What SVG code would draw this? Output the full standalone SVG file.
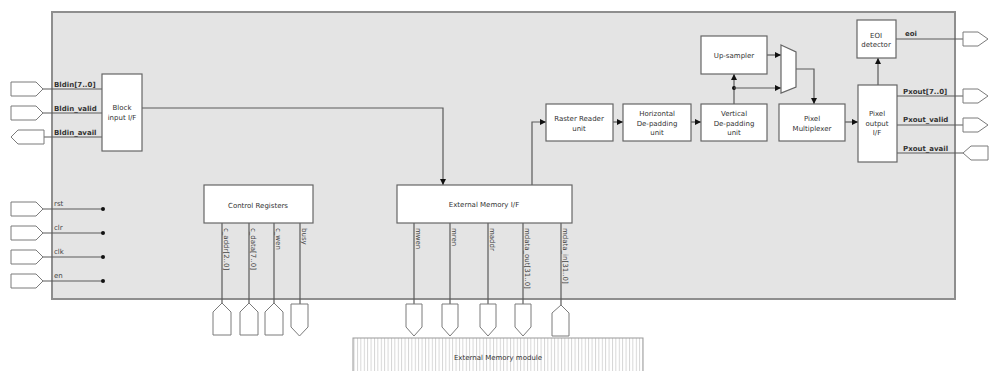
<svg xmlns="http://www.w3.org/2000/svg" width="989" height="371" viewBox="0 0 989 371">
<style>
.frame{fill:#e4e4e4;stroke:#8e8e8e;stroke-width:2}
.box{fill:#fff;stroke:#666;stroke-width:1.2}
.pin{fill:#fff;stroke:#7a7a7a;stroke-width:1}
.w{fill:none;stroke:#5a5a5a;stroke-width:1.2}
.wa{fill:none;stroke:#5a5a5a;stroke-width:1.2;marker-end:url(#ah)}
.t{font-family:"DejaVu Sans",Verdana,sans-serif;font-size:7px;fill:#333;text-anchor:middle}
.pl{font-family:"DejaVu Sans",Verdana,sans-serif;font-size:7px;font-weight:bold;fill:#333}
.pr{font-family:"DejaVu Sans",Verdana,sans-serif;font-size:7px;fill:#444}
.dot{fill:#111}
</style>
<defs>
<marker id="ah" viewBox="0 0 10 10" refX="10" refY="5" markerWidth="6" markerHeight="6" markerUnits="userSpaceOnUse" orient="auto">
<path d="M0,0 L10,5 L0,10 z" fill="#111"/>
</marker>
<pattern id="stripes" width="3.4" height="10" patternUnits="userSpaceOnUse">
<rect width="3.4" height="10" fill="#fff"/>
<line x1="0.5" y1="0" x2="0.5" y2="10" stroke="#c8c8c8" stroke-width="0.8"/>
</pattern>
</defs>

<rect id="frame" class="frame" x="52" y="12" width="903" height="287"/>

<g id="memory-module">
<rect x="353" y="338" width="290" height="40" fill="url(#stripes)" stroke="#999" stroke-width="1"/>
<text class="t" x="498" y="360">External Memory module</text>
</g>

<g id="connectors">
<!-- left pin wires -->
<line class="w" x1="43" y1="89" x2="102" y2="89"/>
<line class="w" x1="43" y1="113" x2="102" y2="113"/>
<line class="w" x1="44" y1="137" x2="102" y2="137"/>
<line class="w" x1="43" y1="209" x2="103" y2="209"/>
<line class="w" x1="43" y1="233" x2="103" y2="233"/>
<line class="w" x1="43" y1="257" x2="103" y2="257"/>
<line class="w" x1="43" y1="281" x2="103" y2="281"/>
<circle class="dot" cx="103" cy="209" r="2"/>
<circle class="dot" cx="103" cy="233" r="2"/>
<circle class="dot" cx="103" cy="257" r="2"/>
<circle class="dot" cx="103" cy="281" r="2"/>
<!-- block input to ext mem IF -->
<polyline class="wa" points="142,108 443,108 443,185"/>
<!-- ext mem IF to raster reader -->
<polyline class="wa" points="532,185 532,122 546,122"/>
<line class="wa" x1="613" y1="122" x2="623" y2="122"/>
<line class="wa" x1="691" y1="122" x2="701" y2="122"/>
<line class="wa" x1="734" y1="104" x2="734" y2="74"/>
<circle class="dot" cx="734" cy="88" r="2"/>
<line class="wa" x1="734" y1="88" x2="781" y2="88"/>
<line class="wa" x1="767" y1="55" x2="781" y2="55"/>
<polyline class="wa" points="796,69 814,69 814,104"/>
<line class="wa" x1="845" y1="122" x2="858" y2="122"/>
<line class="wa" x1="878" y1="85" x2="878" y2="58"/>
<!-- right pin wires -->
<line class="w" x1="896" y1="39" x2="963" y2="39"/>
<line class="w" x1="897" y1="96" x2="963" y2="96"/>
<line class="w" x1="897" y1="125" x2="963" y2="125"/>
<line class="w" x1="897" y1="153" x2="963" y2="153"/>
<!-- control register wires -->
<line class="w" x1="222" y1="223" x2="222" y2="303"/>
<line class="w" x1="249" y1="223" x2="249" y2="303"/>
<line class="w" x1="274" y1="223" x2="274" y2="303"/>
<line class="w" x1="300" y1="223" x2="300" y2="304"/>
<!-- memory wires -->
<line class="w" x1="414" y1="223" x2="414" y2="304"/>
<line class="w" x1="450" y1="223" x2="450" y2="304"/>
<line class="w" x1="488" y1="223" x2="488" y2="304"/>
<line class="w" x1="523" y1="223" x2="523" y2="304"/>
<line class="w" x1="561" y1="223" x2="561" y2="305"/>
</g>

<g id="pins-left">
<polygon class="pin" points="11,82 36,82 43,89 36,96 11,96"/>
<polygon class="pin" points="11,106 36,106 43,113 36,120 11,120"/>
<polygon class="pin" points="11,137 18,130 44,130 44,144 18,144"/>
<polygon class="pin" points="11,202 36,202 43,209 36,216 11,216"/>
<polygon class="pin" points="11,226 36,226 43,233 36,240 11,240"/>
<polygon class="pin" points="11,250 36,250 43,257 36,264 11,264"/>
<polygon class="pin" points="11,274 36,274 43,281 36,288 11,288"/>
<text class="pl" x="54" y="87">Bldin[7..0]</text>
<text class="pl" x="54" y="111">Bldin_valid</text>
<text class="pl" x="54" y="135">Bldin_avail</text>
<text class="pr" x="54" y="206">rst</text>
<text class="pr" x="54" y="230">clr</text>
<text class="pr" x="54" y="254">clk</text>
<text class="pr" x="54" y="278">en</text>
</g>

<g id="pins-right">
<polygon class="pin" points="963,32 978,32 988,39 978,46 963,46"/>
<polygon class="pin" points="963,89 978,89 988,96 978,103 963,103"/>
<polygon class="pin" points="963,118 978,118 988,125 978,132 963,132"/>
<polygon class="pin" points="963,153 971,146 988,146 988,160 971,160"/>
<text class="pl" x="905" y="36">eoi</text>
<text class="pl" x="903" y="94">Pxout[7..0]</text>
<text class="pl" x="903" y="122">Pxout_valid</text>
<text class="pl" x="903" y="151">Pxout_avail</text>
</g>

<g id="pins-bottom">
<polygon class="pin" points="222,303 231,312 231,335 213,335 213,312"/>
<polygon class="pin" points="249,303 258,312 258,335 240,335 240,312"/>
<polygon class="pin" points="274,303 283,312 283,335 265,335 265,312"/>
<polygon class="pin" points="291,304 308,304 308,327 299.5,336 291,327"/>
<polygon class="pin" points="406,304 422,304 422,327 414,336 406,327"/>
<polygon class="pin" points="442,304 458,304 458,327 450,336 442,327"/>
<polygon class="pin" points="480,304 496,304 496,327 488,336 480,327"/>
<polygon class="pin" points="515,304 531,304 531,327 523,336 515,327"/>
<polygon class="pin" points="561,305 569,313 569,336 552,336 552,313"/>
</g>

<g id="block-input-if">
<rect class="box" x="102" y="74" width="40" height="77"/>
<text class="t" x="122" y="110">Block</text>
<text class="t" x="122" y="120">input I/F</text>
</g>

<g id="control-registers">
<rect class="box" x="204" y="185" width="109" height="38"/>
<text class="t" x="258" y="208">Control Registers</text>
<g class="pr">
<text transform="translate(224,228) rotate(90)">c_addr[2..0]</text>
<text transform="translate(251,228) rotate(90)">c_data[7..0]</text>
<text transform="translate(276,228) rotate(90)">c_wen</text>
<text transform="translate(302,228) rotate(90)">busy</text>
</g>
</g>

<g id="external-memory-if">
<rect class="box" x="397" y="185" width="175" height="38"/>
<text class="t" x="484" y="207">External Memory I/F</text>
<g class="pr">
<text transform="translate(416,228) rotate(90)">mwen</text>
<text transform="translate(452,228) rotate(90)">mren</text>
<text transform="translate(490,228) rotate(90)">maddr</text>
<text transform="translate(525,228) rotate(90)">mdata_out[31..0]</text>
<text transform="translate(563,228) rotate(90)">mdata_in[31..0]</text>
</g>
</g>

<g id="raster-reader">
<rect class="box" x="546" y="104" width="67" height="37"/>
<text class="t" x="579" y="121">Raster Reader</text>
<text class="t" x="579" y="131">unit</text>
</g>

<g id="horizontal-depadding">
<rect class="box" x="623" y="104" width="68" height="37"/>
<text class="t" x="657" y="116">Horizontal</text>
<text class="t" x="657" y="126">De-padding</text>
<text class="t" x="657" y="135">unit</text>
</g>

<g id="vertical-depadding">
<rect class="box" x="701" y="104" width="66" height="37"/>
<text class="t" x="734" y="116">Vertical</text>
<text class="t" x="734" y="126">De-padding</text>
<text class="t" x="734" y="135">unit</text>
</g>

<g id="up-sampler">
<rect class="box" x="701" y="36" width="66" height="38"/>
<text class="t" x="734" y="58">Up-sampler</text>
</g>

<g id="mux">
<polygon class="box" points="781,45 796,52 796,87 781,93"/>
</g>

<g id="pixel-multiplexer">
<rect class="box" x="779" y="104" width="66" height="37"/>
<text class="t" x="812" y="121">Pixel</text>
<text class="t" x="812" y="131">Multiplexer</text>
</g>

<g id="eoi-detector">
<rect class="box" x="857" y="20" width="39" height="38"/>
<text class="t" x="876" y="38">EOI</text>
<text class="t" x="876" y="47">detector</text>
</g>

<g id="pixel-output-if">
<rect class="box" x="858" y="85" width="39" height="77"/>
<text class="t" x="877" y="116">Pixel</text>
<text class="t" x="877" y="126">output</text>
<text class="t" x="877" y="135">I/F</text>
</g>
</svg>
